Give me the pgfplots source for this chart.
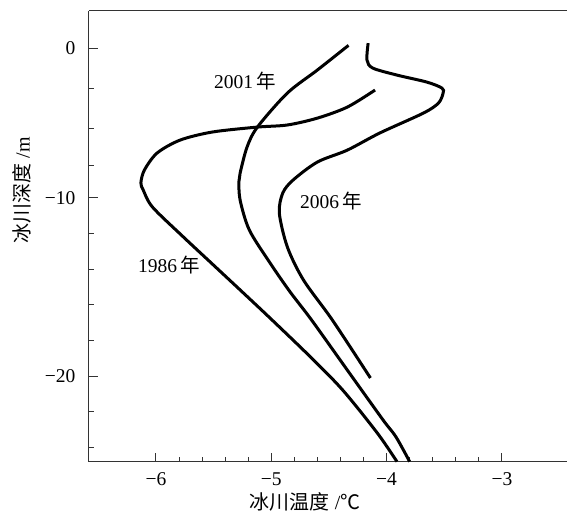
\documentclass[border=0pt]{standalone}
\usepackage{fontspec}
\setmainfont{Liberation Serif}
\newfontfamily\cjk{Noto Sans CJK SC}
\usepackage{pgfplots}
\pgfplotsset{compat=1.18}

% depth axis of the source is stretched below -10 m
\pgfplotsset{
  deptharrow/.style={
    y coord trafo/.code={\pgfmathparse{##1>=-10 ? ##1 : -10+(##1+10)*1.1934}},
    y coord inv trafo/.code={\pgfmathparse{##1>=-10 ? ##1 : -10+(##1+10)/1.1934}},
  },
  profile/.style={black, line width=3pt, smooth, tension=0.5},
}

\begin{document}
\begin{tikzpicture}
\begin{axis}[
  deptharrow,
  scale only axis,
  width=478pt, height=451pt,
  xmin=-6.58, xmax=-2.436,
  ymin=-24.82, ymax=2.5,
  axis x line=box, axis y line=left,
  axis line style={line width=1pt, black!80},
  y axis line style={-},
  xtick={-6,-5,-4,-3},
  xticklabels={−6,−5,−4,−3},
  minor x tick num=4,
  ytick={-20,-10,0},
  yticklabels={−20,−10,0},
  minor ytick={-2.66,-5.33,-7.87,-12,-14,-16,-18,-22,-24},
  xtick pos=bottom, ytick pos=left,
  tick align=inside,
  major tick length=9pt, minor tick length=5pt,
  every tick/.style={black!80, line width=0.9pt},
  tick label style={font=\fontsize{19.5}{22}\selectfont},
  xticklabel style={yshift=-7pt},
  yticklabel style={xshift=-10pt},
  xlabel={{\cjk 冰川温度}\ /{\cjk ℃}},
  ylabel={{\cjk 冰川深度}\ /m},
  every axis x label/.style={at={(axis description cs:0.452,0)}, anchor=center, yshift=-40pt, font=\fontsize{20}{24}\selectfont},
  every axis y label/.style={at={(axis description cs:0,0.603)}, xshift=-67pt, rotate=90, anchor=center, font=\fontsize{20}{24}\selectfont},
  clip=false,
]
\coordinate (sw) at (rel axis cs:0,0);

% 1986
\addplot[profile] coordinates {
  (-4.10,-2.79) (-4.34,-3.93) (-4.60,-4.67) (-4.86,-5.13) (-5.12,-5.27)
  (-5.51,-5.60) (-5.79,-6.14) (-5.99,-7.01) (-6.10,-8.15) (-6.13,-9.00)
  (-6.11,-9.48) (-6.03,-10.52) (-5.77,-12.15) (-5.51,-13.72) (-5.25,-15.29)
  (-5.01,-16.75) (-4.66,-18.93) (-4.38,-20.79) (-4.08,-23.20) (-3.91,-24.80)
};
% 2001
\addplot[profile] coordinates {
  (-4.33,0.20) (-4.60,-1.45) (-4.86,-2.99) (-5.12,-5.27) (-5.21,-6.61)
  (-5.27,-8.35) (-5.28,-8.90) (-5.27,-10.13) (-5.19,-11.81) (-5.01,-13.66)
  (-4.84,-15.25) (-4.65,-16.86) (-4.34,-19.67) (-4.03,-22.47) (-3.92,-23.40)
  (-3.80,-24.80)
};
% 2006
\addplot[profile] coordinates {
  (-4.16,0.35) (-4.17,-0.78) (-4.12,-1.32) (-3.91,-1.79) (-3.65,-2.26)
  (-3.52,-2.66) (-3.51,-2.99) (-3.55,-3.66) (-3.68,-4.33) (-4.06,-5.67)
  (-4.34,-6.81) (-4.60,-7.61) (-4.81,-8.81) (-4.90,-9.68) (-4.93,-10.86)
  (-4.86,-12.77) (-4.72,-14.62) (-4.47,-16.86) (-4.14,-20.11)
};

\node[font=\fontsize{19.5}{22}\selectfont] at (rel axis cs:0.3264,0.8448) {2001\,{\cjk 年}};
\node[font=\fontsize{19.5}{22}\selectfont] at (rel axis cs:0.5063,0.5787) {2006\,{\cjk 年}};
\node[font=\fontsize{19.5}{22}\selectfont] at (rel axis cs:0.1674,0.4368) {1986\,{\cjk 年}};
\end{axis}
\pgfresetboundingbox
\useasboundingbox (sw) ++(-89pt,-51pt) rectangle ++(567pt,513pt);
\end{tikzpicture}
\end{document}
